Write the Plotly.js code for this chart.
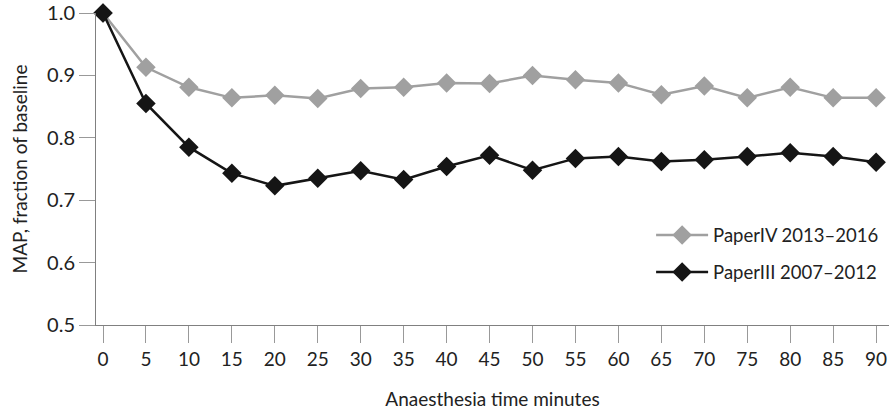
<!DOCTYPE html>
<html>
<head>
<meta charset="utf-8">
<script src="https://cdn.plot.ly/plotly-3.0.1.min.js"></script>
<style>html,body{margin:0;padding:0;background:#fff;}#chart{width:889px;height:410px;}</style>
</head>
<body>
<div id="chart"></div>
<script>
var minutes = [0, 5, 10, 15, 20, 25, 30, 35, 40, 45, 50, 55, 60, 65, 70, 75, 80, 85, 90];
var paperIV = [1.0, 0.913, 0.881, 0.864, 0.868, 0.863, 0.879, 0.881, 0.888, 0.887, 0.900, 0.893, 0.888, 0.869, 0.883, 0.864, 0.881, 0.864, 0.864];
var paperIII = [1.0, 0.855, 0.785, 0.743, 0.723, 0.735, 0.747, 0.733, 0.754, 0.772, 0.748, 0.767, 0.770, 0.762, 0.765, 0.770, 0.776, 0.770, 0.761];
var nameIV = "PaperIV 2013–2016";
var nameIII = "PaperIII 2007–2012";
var yTicks = [0.5, 0.6, 0.7, 0.8, 0.9, 1.0];
var yTickText = ["0.5", "0.6", "0.7", "0.8", "0.9", "1.0"];

var fontFam = "Lato, 'Open Sans', sans-serif";
var traces = [
  {x: minutes, y: paperIV, name: nameIV, type: "scatter", mode: "lines+markers",
   legendgroup: "a", cliponaxis: false,
   line: {color: "#a0a0a0", width: 2.5},
   marker: {symbol: "diamond", size: 15, color: "#a0a0a0"}},
  {x: minutes, y: paperIII, name: nameIII, type: "scatter", mode: "lines+markers",
   legendgroup: "b", cliponaxis: false,
   line: {color: "#151515", width: 2.5},
   marker: {symbol: "diamond", size: 15, color: "#151515"}}
];
var layout = {
  width: 889, height: 410,
  margin: {l: 96, r: 0, t: 13, b: 85},
  paper_bgcolor: "#fff", plot_bgcolor: "#fff",
  font: {family: fontFam, size: 19, color: "#222"},
  showlegend: true,
  legend: {x: 0.70, xanchor: "left", y: 0.228, yanchor: "middle",
           traceorder: "grouped", tracegroupgap: 10, itemwidth: 52,
           font: {family: fontFam, size: 18.5, color: "#222"}, bgcolor: "rgba(0,0,0,0)"},
  xaxis: {range: [-0.815, 91.5], tickvals: minutes, ticktext: minutes.map(String),
          showgrid: false, zeroline: false, showline: true, linecolor: "#808080", linewidth: 1,
          ticks: "outside", ticklen: 17, tickcolor: "#999", tickwidth: 1,
          tickfont: {size: 19, color: "#222"},
          title: {text: "Anaesthesia time minutes", font: {size: 19, color: "#222"}, standoff: 24}},
  yaxis: {range: [0.5, 1.0], tickvals: yTicks, ticktext: yTickText,
          showgrid: false, zeroline: false, showline: true, linecolor: "#808080", linewidth: 1,
          ticks: "outside", ticklen: 16, tickcolor: "#999", tickwidth: 1,
          tickfont: {size: 20, color: "#222"},
          title: {text: "MAP, fraction of baseline", font: {size: 19, color: "#222"}, standoff: 14}}
};
Plotly.newPlot("chart", traces, layout, {displayModeBar: false, staticPlot: true});
</script>
</body>
</html>
